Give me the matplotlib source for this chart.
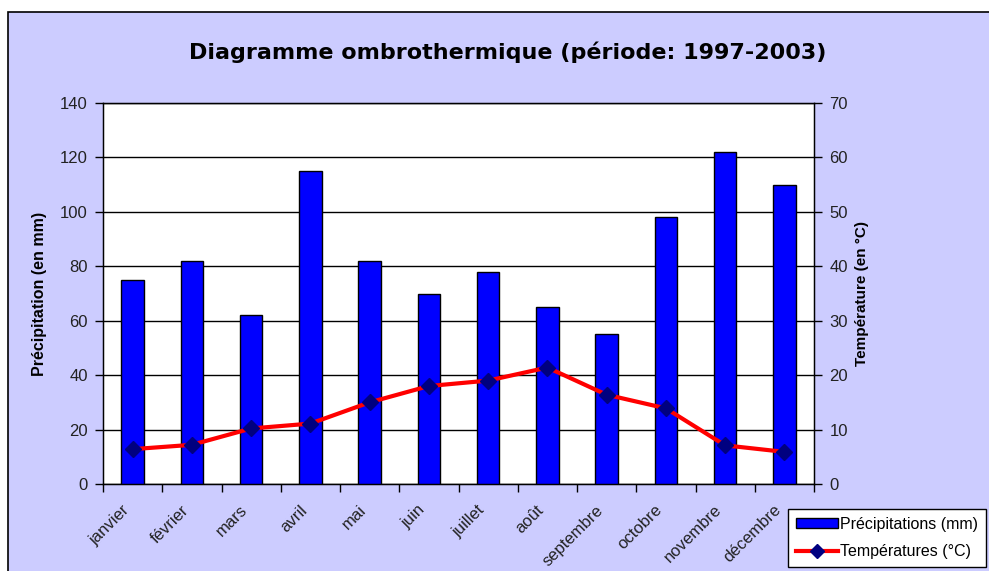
import matplotlib
matplotlib.use("Agg")
import matplotlib.pyplot as plt
from matplotlib.patches import Rectangle
from matplotlib.lines import Line2D
import numpy as np

months = ["janvier", "février", "mars", "avril", "mai", "juin", "juillet",
          "août", "septembre", "octobre", "novembre", "décembre"]
precip = [75, 82, 62, 115, 82, 70, 78, 65, 55, 98, 122, 110]
temps = [6.4, 7.2, 10.2, 11.1, 15.0, 18.0, 19.0, 21.4, 16.4, 13.9, 7.1, 5.9]
precip_ticks = [0, 20, 40, 60, 80, 100, 120, 140]
temp_ticks = [0, 10, 20, 30, 40, 50, 60, 70]

plt.rcParams['font.family'] = ['Liberation Sans', 'DejaVu Sans']

fig = plt.figure(figsize=(9.89, 5.71), dpi=100)
fig.patch.set_facecolor("white")
bg = Rectangle((8/989, -0.1), 1.2, 1 - 12/571 + 0.1,
               transform=fig.transFigure, facecolor="#CCCCFF",
               edgecolor="black", linewidth=1.2, zorder=-10)
fig.patches.append(bg)

ax = fig.add_axes([103/989, 87/571, 711/989, 381/571])
ax.set_zorder(1)
ax.set_facecolor("white")
x = np.arange(len(months))
ax.bar(x, precip, width=0.38, color="#0000FF", edgecolor="black", linewidth=1.0, zorder=3)
ax.set_xlim(-0.5, len(months) - 0.5)
ax.set_ylim(0, 140)
ax.set_yticks(precip_ticks)
ax.set_yticklabels([str(t) for t in precip_ticks], fontsize=12, color="#222222")
ax.yaxis.grid(True, color="black", linewidth=1.0, zorder=1)
ax.set_axisbelow(True)
ax.set_xticks(np.arange(-0.5, len(months), 1.0))
ax.set_xticklabels([])
ax.set_xticks(x - 0.1, minor=True)
ax.set_xticklabels(months, minor=True, rotation=45, ha="right", va="center",
                   rotation_mode="anchor", fontsize=12, color="#222222")
ax.tick_params(axis="x", which="minor", length=0, pad=17)
ax.tick_params(axis="x", which="major", length=6, direction="out", width=1)
ax.tick_params(axis="y", length=6, direction="out", width=1, pad=5)
ax.set_ylabel("Précipitation (en mm)", fontsize=11.5, fontweight="bold", labelpad=9)
for s in ax.spines.values():
    s.set_linewidth(1.0)

ax2 = ax.twinx()
ax2.plot(x, temps, color="red", linewidth=3, marker="D", markersize=8,
         markerfacecolor="#000080", markeredgecolor="#000080", zorder=5)
ax2.set_ylim(0, 70)
ax2.set_yticks(temp_ticks)
ax2.set_yticklabels([str(t) for t in temp_ticks], fontsize=12, color="#222222")
ax2.tick_params(axis="y", length=6, direction="out", width=1, pad=5)
ax2.set_ylabel("Température (en °C)", fontsize=11, fontweight="bold", labelpad=5)

fig.text(508/989, 1 - 52/571, "Diagramme ombrothermique (période: 1997-2003)",
         ha="center", va="center", fontsize=16, fontweight="bold",
         family="DejaVu Sans")

handles = [Rectangle((0, 0), 1, 1, facecolor="#0000FF", edgecolor="black"),
           Line2D([], [], color="red", linewidth=3, marker="D", markersize=7,
                  markerfacecolor="#000080", markeredgecolor="#000080")]
leg = fig.legend(handles, ["Précipitations (mm)", "Températures (°C)"],
                 loc="upper left", bbox_to_anchor=(788/989, 1 - 509/571),
                 fontsize=11.5, frameon=True, fancybox=False, edgecolor="black",
                 facecolor="white", framealpha=1, handlelength=2.6,
                 handleheight=0.6, handletextpad=0.15, borderpad=0.5,
                 borderaxespad=0, labelspacing=0.75)
leg.get_frame().set_linewidth(1.0)

fig.savefig("out.png", dpi=100)
